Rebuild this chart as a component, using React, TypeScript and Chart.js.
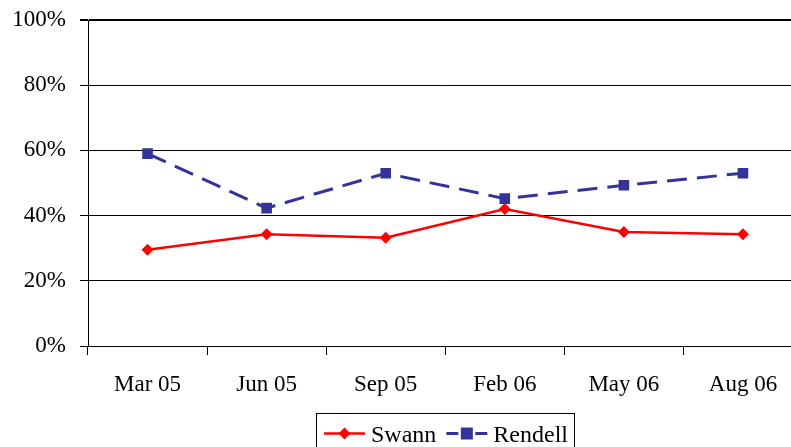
import React, { useEffect, useRef } from "react";
import { Chart, registerables } from "chart.js";

Chart.register(...registerables);

const categories = ["Mar 05", "Jun 05", "Sep 05", "Feb 06", "May 06", "Aug 06"];
const swann = [29.5, 34.3, 33.2, 42.0, 35.0, 34.3];
const rendell = [59.0, 42.3, 53.0, 45.2, 49.3, 53.0];
const yTicks = [0, 20, 40, 60, 80, 100];

const SERIF = "'Liberation Serif', 'Times New Roman', serif";
const RED = "#FF0000";
const BLUE = "#333399";

const legendPlugin = {
  id: "boxLegend",
  afterDraw(chart: any) {
    const { ctx, chartArea } = chart;
    ctx.save();
    ctx.font = `24px ${SERIF}`;
    const items = [
      { label: "Swann", color: RED, dash: [] as number[], marker: "diamond" },
      { label: "Rendell", color: BLUE, dash: [12, 17], marker: "square" },
    ];
    const lineW = 41;
    const padL = 8;
    const padR = 6;
    const gapText = 6;
    const gapItem = 10;
    const widths = items.map((it) => ctx.measureText(it.label).width);
    let total = padL + padR + gapItem * (items.length - 1);
    widths.forEach((w: number) => (total += lineW + gapText + w));
    const cx = (chartArea.left + chartArea.right) / 2;
    const left = Math.round(cx - total / 2) + 0.5;
    const top = Math.round(chartArea.bottom + 67) + 0.5;
    ctx.strokeStyle = "#000";
    ctx.lineWidth = 1;
    ctx.strokeRect(left, top, Math.round(total), 60);
    let x = left - 0.5 + padL;
    const ly = top + 20;
    items.forEach((it, i) => {
      ctx.strokeStyle = it.color;
      ctx.fillStyle = it.color;
      ctx.lineWidth = it.marker === "square" ? 3 : 2.5;
      ctx.setLineDash(it.dash);
      ctx.beginPath();
      ctx.moveTo(x, ly);
      ctx.lineTo(x + lineW, ly);
      ctx.stroke();
      ctx.setLineDash([]);
      const mx = x + lineW / 2;
      ctx.beginPath();
      if (it.marker === "diamond") {
        ctx.moveTo(mx - 6, ly);
        ctx.lineTo(mx, ly - 6);
        ctx.lineTo(mx + 6, ly);
        ctx.lineTo(mx, ly + 6);
        ctx.closePath();
      } else {
        ctx.rect(mx - 6, ly - 6, 12, 12);
      }
      ctx.fill();
      x += lineW + gapText;
      ctx.fillStyle = "#000";
      ctx.textBaseline = "alphabetic";
      ctx.textAlign = "left";
      ctx.fillText(it.label, x, top + 28.5);
      x += widths[i] + gapItem;
    });
    ctx.restore();
  },
};

export default function App() {
  const ref = useRef<HTMLCanvasElement | null>(null);
  useEffect(() => {
    if (!ref.current) return;
    const chart = new Chart(ref.current, {
      type: "line",
      data: {
        labels: categories,
        datasets: [
          {
            label: "Swann",
            data: swann,
            borderColor: RED,
            backgroundColor: RED,
            borderWidth: 2.5,
            pointStyle: "rectRot",
            pointRadius: 6,
            pointBorderWidth: 0,
            pointBackgroundColor: RED,
            tension: 0,
            fill: false,
          },
          {
            label: "Rendell",
            data: rendell,
            borderColor: BLUE,
            backgroundColor: BLUE,
            borderWidth: 3,
            borderDash: [20, 10],
            pointStyle: "rect",
            pointRadius: 7.5,
            pointBorderWidth: 0,
            pointBackgroundColor: BLUE,
            tension: 0,
            fill: false,
          },
        ],
      },
      options: {
        responsive: false,
        animation: false,
        devicePixelRatio: 1,
        layout: { padding: { top: 20, right: 6, left: 0, bottom: 0 } },
        plugins: {
          legend: { display: false },
          tooltip: { enabled: false },
        },
        scales: {
          x: {
            type: "category",
            offset: true,
            grid: {
              display: true,
              offset: true,
              drawOnChartArea: false,
              drawTicks: true,
              tickLength: 9,
              color: "#000",
              lineWidth: 1,
            },
            border: { display: true, color: "#000", width: 1 },
            ticks: {
              color: "#000",
              font: { family: SERIF, size: 23 },
              padding: 16,
              maxRotation: 0,
              autoSkip: false,
            },
            afterFit: (scale: any) => {
              scale.height = 101;
              scale.paddingLeft = 0;
              scale.paddingRight = 0;
            },
          },
          y: {
            min: 0,
            max: 100,
            afterBuildTicks: (scale: any) => {
              scale.ticks = yTicks.map((v) => ({ value: v }));
            },
            grid: {
              color: "#000",
              lineWidth: (c: any) => (c.tick && c.tick.value === 100 ? 2 : 1),
              drawTicks: true,
              tickLength: 8,
            },
            border: { display: true, color: "#000", width: 1 },
            ticks: {
              color: "#000",
              font: { family: SERIF, size: 23 },
              padding: 14,
              callback: (v: any) => `${v}%`,
            },
            afterFit: (scale: any) => {
              scale.width = 88;
              scale.paddingTop = 0;
              scale.paddingBottom = 0;
            },
          },
        },
      },
      plugins: [legendPlugin],
    });
    return () => chart.destroy();
  }, []);
  return (
    <div
      style={{
        position: "fixed",
        left: 0,
        top: 0,
        width: 791,
        height: 447,
        overflow: "hidden",
        background: "#fff",
      }}
    >
      <canvas ref={ref} width={810} height={447} style={{ display: "block" }} />
    </div>
  );
}
